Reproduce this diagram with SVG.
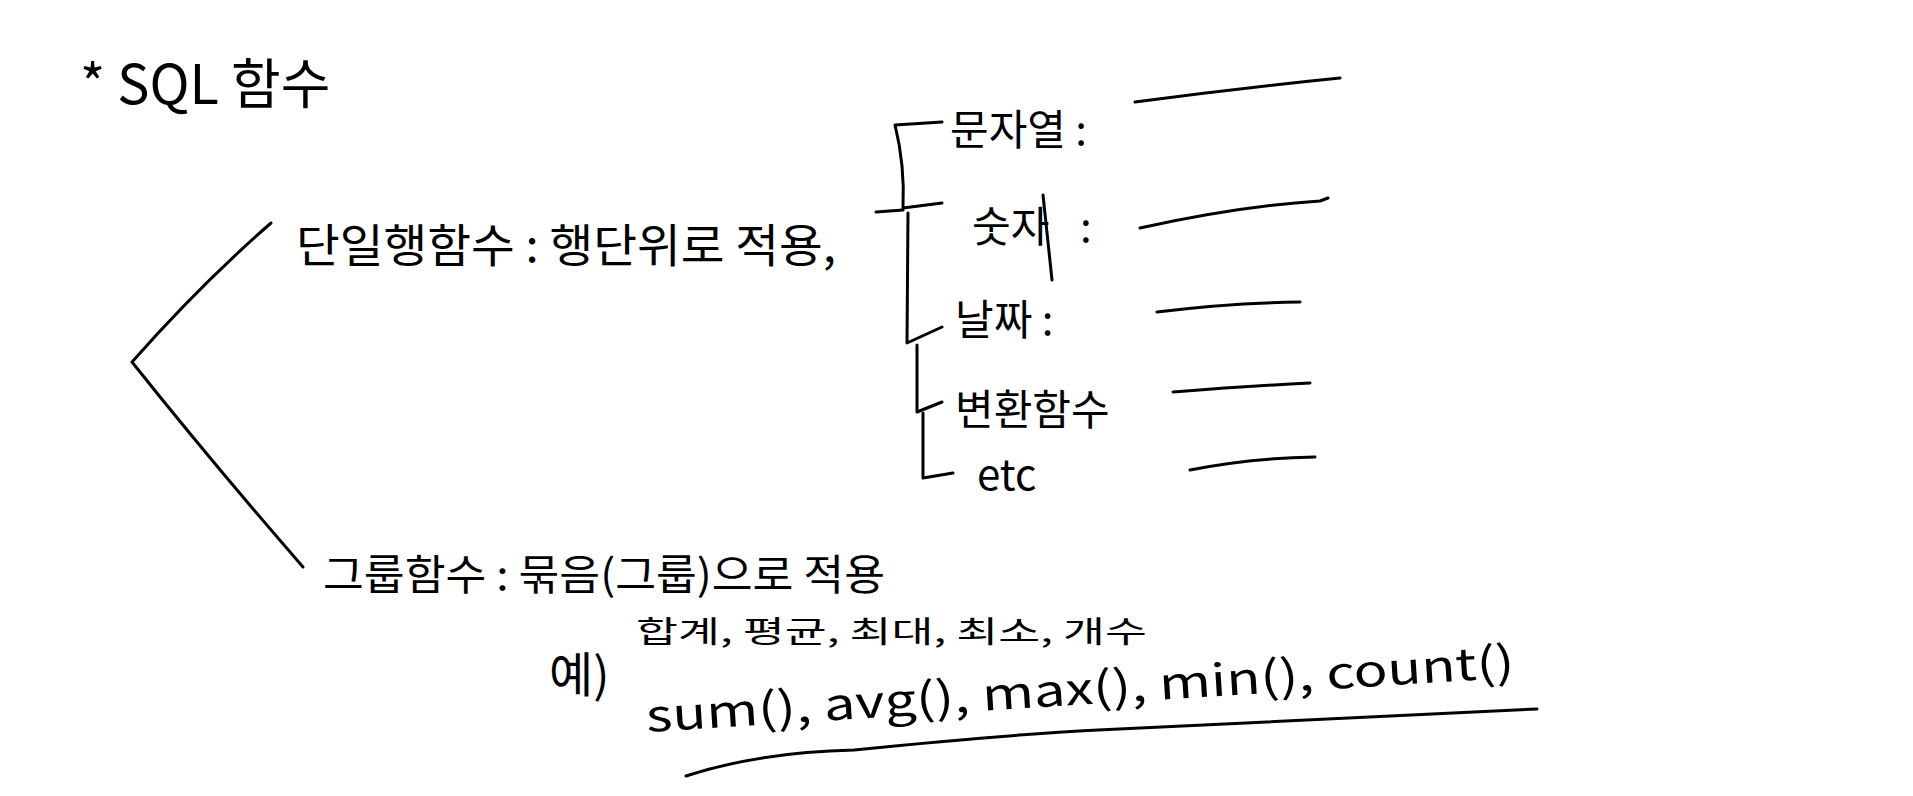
<svg xmlns="http://www.w3.org/2000/svg" width="1913" height="796" viewBox="0 0 1913 796">
<style>
.t{font-family:"Noto Sans CJK KR","Noto Sans",sans-serif;fill:#000;font-weight:400}
.c{fill:none;stroke:#000;stroke-width:3;stroke-linecap:round;stroke-linejoin:round}
</style>
<rect width="1913" height="796" fill="#fff"/>
<g id="title"><text class="t" x="80" y="104" font-size="54">* SQL 함수</text></g>
<g id="connectors">
<path class="c" d="M271,223 Q200,285 132,362 Q210,460 303,567"/>
<path class="c" d="M876,212 L903,210"/>
<path class="c" d="M942,122 L895,125 Q905,165 903,208 L942,203"/>
<path class="c" d="M908,213 L907,343 L942,327"/>
<path class="c" d="M917,345 L917,412 L942,402"/>
<path class="c" d="M923,413 L923,478 L953,473"/>
<path class="c" d="M1135,102 Q1240,88 1340,78"/>
<path class="c" d="M1140,228 Q1240,206 1320,201 L1328,198"/>
<path class="c" d="M1157,312 Q1230,303 1300,302"/>
<path class="c" d="M1173,392 Q1250,386 1310,383"/>
<path class="c" d="M1190,470 Q1250,458 1315,457"/>
<path class="c" d="M686,776 Q760,752 854,750 Q1000,735 1098,730 L1537,709"/>
</g>
<g id="single"><text class="t" x="296" y="262" font-size="46" textLength="540" lengthAdjust="spacingAndGlyphs">단일행함수 : 행단위로 적용,</text></g>
<g id="string"><text class="t" x="950" y="145" font-size="42">문자열 :</text></g>
<g id="number"><text class="t" x="972" y="242" font-size="42">숫자</text><path class="c" d="M1043,195 L1052,280"/><text class="t" x="1080" y="242" font-size="42">:</text></g>
<g id="date"><text class="t" x="955" y="335" font-size="42">날짜 :</text></g>
<g id="convert"><text class="t" x="955" y="425" font-size="42">변환함수</text></g>
<g id="etc"><text class="t" x="977" y="490" font-size="42">etc</text></g>
<g id="group"><text class="t" x="323" y="590" font-size="42" textLength="562" lengthAdjust="spacingAndGlyphs">그룹함수 : 묶음(그룹)으로 적용</text></g>
<g id="example">
<text class="t" x="549" y="692" font-size="48">예)</text>
<text class="t" x="636" y="642" font-size="30" textLength="511" lengthAdjust="spacingAndGlyphs">합계, 평균, 최대, 최소, 개수</text>
<text class="t" x="647" y="732" font-size="44" textLength="870" lengthAdjust="spacingAndGlyphs" transform="rotate(-3.6 647 732)">sum(), avg(), max(), min(), count()</text>
</g>
</svg>
